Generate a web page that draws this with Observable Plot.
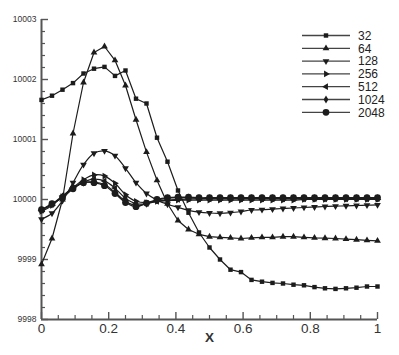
<!DOCTYPE html>
<html>
<head>
<meta charset="utf-8">
<script src="https://cdn.jsdelivr.net/npm/d3@7"></script>
<script src="https://cdn.jsdelivr.net/npm/@observablehq/plot@0.6"></script>
<style>
  body { margin: 0; background: #fff; }
  #wrap { position: relative; width: 399px; height: 355px; }
  #legend { position: absolute; left: 0; top: 0; }
</style>
</head>
<body>
<div id="wrap"></div>
<script>
// grid positions (x)
const xs = [0, 0.03125, 0.0625, 0.09375, 0.125, 0.15625, 0.1875, 0.21875, 0.25, 0.28125, 0.3125, 0.34375, 0.375, 0.40625, 0.4375, 0.46875, 0.5, 0.53125, 0.5625, 0.59375, 0.625, 0.65625, 0.6875, 0.71875, 0.75, 0.78125, 0.8125, 0.84375, 0.875, 0.90625, 0.9375, 0.96875, 1];

// series names
const seriesNames = ["32", "64", "128", "256", "512", "1024", "2048"];

// series values
const s32 = [10001.66, 10001.73, 10001.83, 10001.94, 10002.10, 10002.18, 10002.21, 10002.06, 10002.15, 10001.68, 10001.60, 10001.03, 10000.63, 10000.15, 9999.78, 9999.45, 9999.20, 9999.00, 9998.83, 9998.79, 9998.66, 9998.63, 9998.61, 9998.60, 9998.58, 9998.57, 9998.54, 9998.52, 9998.51, 9998.52, 9998.53, 9998.55, 9998.55];
const s64 = [9998.92, 9999.35, 10000.00, 10001.10, 10001.95, 10002.45, 10002.55, 10002.32, 10001.90, 10001.33, 10000.79, 10000.32, 9999.93, 9999.65, 9999.50, 9999.42, 9999.38, 9999.37, 9999.36, 9999.35, 9999.36, 9999.37, 9999.37, 9999.38, 9999.38, 9999.37, 9999.36, 9999.355, 9999.35, 9999.34, 9999.33, 9999.32, 9999.31];
const s128 = [9999.67, 9999.77, 9999.98, 10000.28, 10000.58, 10000.77, 10000.81, 10000.73, 10000.52, 10000.28, 10000.10, 9999.99, 9999.92, 9999.87, 9999.82, 9999.79, 9999.775, 9999.77, 9999.78, 9999.80, 9999.825, 9999.83, 9999.84, 9999.85, 9999.858, 9999.867, 9999.875, 9999.883, 9999.888, 9999.895, 9999.90, 9999.905, 9999.91];
const s256 = [9999.80, 9999.90, 10000.05, 10000.20, 10000.33, 10000.41, 10000.39, 10000.27, 10000.08, 9999.97, 9999.95, 9999.97, 9999.98, 9999.99, 9999.99, 9999.99, 9999.99, 9999.99, 9999.99, 9999.99, 9999.99, 9999.99, 9999.99, 9999.99, 9999.99, 10000.00, 10000.00, 10000.00, 10000.00, 10000.00, 10000.00, 10000.00, 10000.00];
const s512 = [9999.82, 9999.92, 10000.06, 10000.19, 10000.29, 10000.34, 10000.31, 10000.19, 10000.02, 9999.93, 9999.93, 9999.97, 9999.99, 10000.00, 10000.01, 10000.01, 10000.01, 10000.01, 10000.01, 10000.01, 10000.01, 10000.01, 10000.01, 10000.01, 10000.01, 10000.01, 10000.01, 10000.01, 10000.01, 10000.01, 10000.01, 10000.01, 10000.01];
const s1024 = [9999.83, 9999.92, 10000.05, 10000.18, 10000.28, 10000.29, 10000.25, 10000.12, 9999.97, 9999.90, 9999.93, 9999.99, 10000.02, 10000.03, 10000.03, 10000.02, 10000.02, 10000.02, 10000.02, 10000.02, 10000.02, 10000.02, 10000.02, 10000.02, 10000.02, 10000.02, 10000.02, 10000.02, 10000.02, 10000.02, 10000.02, 10000.02, 10000.02];
const s2048 = [9999.83, 9999.93, 10000.03, 10000.18, 10000.28, 10000.28, 10000.23, 10000.10, 9999.95, 9999.88, 9999.94, 10000.00, 10000.03, 10000.04, 10000.04, 10000.03, 10000.03, 10000.03, 10000.03, 10000.03, 10000.03, 10000.03, 10000.03, 10000.03, 10000.03, 10000.03, 10000.03, 10000.03, 10000.03, 10000.03, 10000.03, 10000.03, 10000.03];

// tick values
const xMajor = [0, 0.2, 0.4, 0.6, 0.8, 1];
const xMinor = [0.05, 0.1, 0.15, 0.25, 0.3, 0.35, 0.45, 0.5, 0.55, 0.65, 0.7, 0.75, 0.85, 0.9, 0.95];
const yMajor = [9998, 9999, 10000, 10001, 10002, 10003];
const yMinor = [9998.2, 9998.4, 9998.6, 9998.8, 9999.2, 9999.4, 9999.6, 9999.8, 10000.2, 10000.4, 10000.6, 10000.8, 10001.2, 10001.4, 10001.6, 10001.8, 10002.2, 10002.4, 10002.6, 10002.8];

const seriesValues = [s32, s64, s128, s256, s512, s1024, s2048];
// marker styles per series
const symbols = ["square", "triangle", "triangle", "triangle", "triangle", "diamond", "circle"];
const rotations = [0, 0, 180, 90, -90, 0, 0];
const radii = [2.5, 2.5, 2.5, 2.5, 2.5, 2.5, 3.4];
const curves = ["linear", "linear", "catmull-rom", "catmull-rom", "catmull-rom", "catmull-rom", "catmull-rom"];

const rows = seriesNames.map((name, i) => xs.map((x, k) => ({series: name, x, v: seriesValues[i][k]})));

const ink = "#1c1c1c";
const axisColor = "#555";

const marks = [];
rows.forEach((data, i) => {
  marks.push(Plot.line(data, {x: "x", y: "v", stroke: ink, strokeWidth: 1.2, curve: curves[i]}));
});
rows.forEach((data, i) => {
  marks.push(Plot.dot(data, {x: "x", y: "v", symbol: symbols[i], r: radii[i], fill: ink, stroke: "none", rotate: rotations[i]}));
});

const chart = Plot.plot({
  width: 399,
  height: 355,
  marginLeft: 41,
  marginRight: 22,
  marginTop: 19,
  marginBottom: 36,
  style: {fontFamily: "'Liberation Sans', Arial, sans-serif", color: "#333", background: "#fff"},
  x: {domain: [0, 1], label: null},
  y: {domain: [9998, 10003], label: null},
  marks: [
    Plot.axisY({ticks: yMinor, tickSize: -4, tickFormat: () => "", stroke: axisColor, strokeWidth: 1.2}),
    Plot.axisY({ticks: yMajor, tickSize: -7, tickPadding: 12, tickFormat: d => String(d), fontSize: 8.5, stroke: axisColor, strokeWidth: 1.4, fill: "#333"}),
    Plot.axisX({ticks: xMinor, tickSize: -4, tickFormat: () => "", stroke: axisColor, strokeWidth: 1.2}),
    Plot.axisX({ticks: xMajor, tickSize: -7, tickPadding: 11, tickFormat: d => String(d), fontSize: 13.5, stroke: axisColor, strokeWidth: 1.4, fill: "#333"}),
    Plot.ruleX([0], {stroke: axisColor, strokeWidth: 2}),
    Plot.ruleY([9998], {stroke: axisColor, strokeWidth: 2}),
    Plot.text(["X"], {frameAnchor: "bottom", dy: 22.5, fontSize: 13.5, fontWeight: "bold", fill: "#333"}),
    ...marks
  ]
});

const wrap = document.getElementById("wrap");
wrap.appendChild(chart);

// legend overlay
const leg = d3.select(wrap).append("svg")
  .attr("id", "legend")
  .attr("width", 399).attr("height", 355);
const symMap = {square: d3.symbolSquare, triangle: d3.symbolTriangle, diamond: d3.symbolDiamond, circle: d3.symbolCircle};
seriesNames.forEach((name, i) => {
  const y = 35.5 + i * 12.8;
  const g = leg.append("g").attr("transform", `translate(0,${y})`);
  g.append("line").attr("x1", 302).attr("x2", 350).attr("y1", 0).attr("y2", 0)
    .attr("stroke", "#444").attr("stroke-width", 1.3);
  g.append("path")
    .attr("d", d3.symbol(symMap[symbols[i]], Math.PI * radii[i] * radii[i])())
    .attr("transform", `translate(326,0) rotate(${rotations[i]})`)
    .attr("fill", ink);
  g.append("text").attr("x", 358).attr("y", 4.3).text(name)
    .attr("font-family", "'Liberation Sans', Arial, sans-serif")
    .attr("font-size", 12).attr("fill", "#222");
});
</script>
</body>
</html>
